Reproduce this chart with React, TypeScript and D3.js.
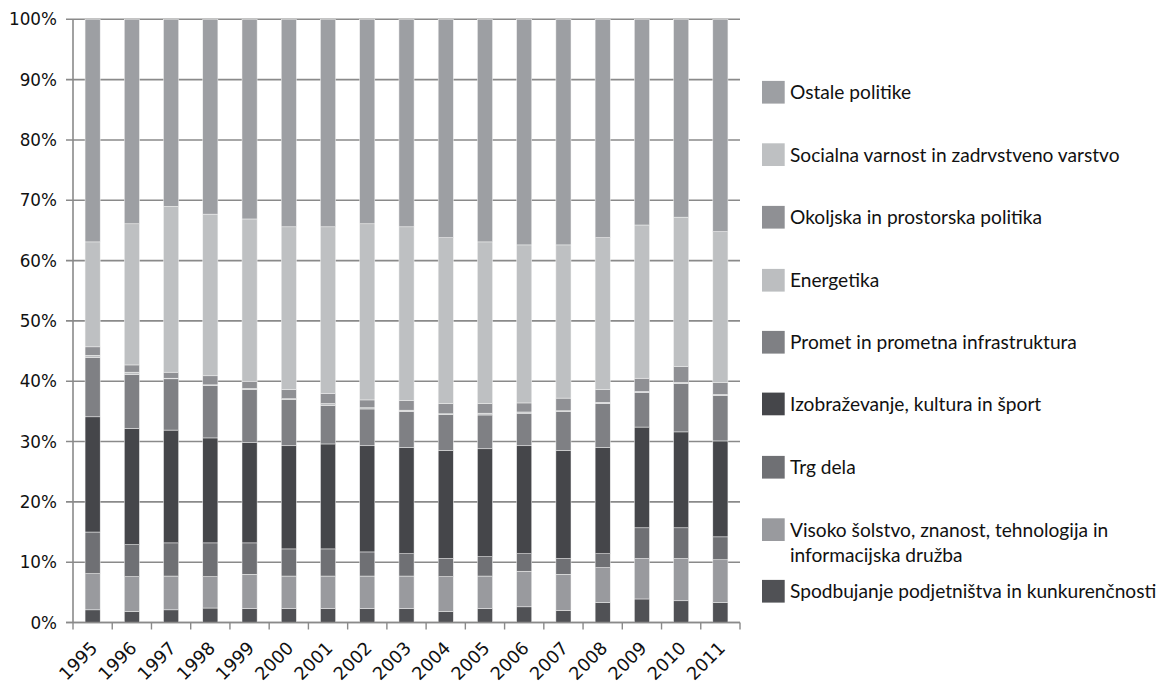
import React from "react";
import * as d3 from "d3";

const years = ["1995","1996","1997","1998","1999","2000","2001","2002","2003","2004","2005","2006","2007","2008","2009","2010","2011"];

// bottom -> top of stack
const spodbujanje = [2.1,1.8,2.1,2.4,2.3,2.3,2.3,2.3,2.3,1.8,2.3,2.6,2.0,3.3,3.9,3.6,3.3];
const visoko      = [6.0,5.8,5.6,5.2,5.7,5.4,5.4,5.4,5.4,5.8,5.4,5.9,6.0,5.8,6.7,7.0,7.1];
const trgDela     = [6.9,5.3,5.5,5.6,5.2,4.5,4.5,4.0,3.7,3.0,3.2,2.9,2.6,2.3,5.1,5.1,3.8];
const izobrazev   = [19.1,19.3,18.7,17.4,16.6,17.1,17.4,17.6,17.6,17.9,17.9,17.9,17.9,17.6,16.7,15.9,15.9];
const promet      = [9.8,8.9,8.5,8.7,8.8,7.7,6.4,6.1,6.0,6.0,5.6,5.4,6.5,7.3,5.7,8.0,7.5];
const energetika  = [0.4,0.4,0.1,0.1,0.2,0.1,0.3,0.2,0.2,0.1,0.3,0.2,0.1,0.2,0.2,0.2,0.2];
const okoljska    = [1.4,1.2,1.0,1.5,1.2,1.5,1.7,1.3,1.6,1.7,1.6,1.5,2.1,2.1,2.2,2.6,2.0];
const socialna    = [17.4,23.4,27.5,26.8,26.9,27.0,27.6,29.2,28.8,27.5,26.8,26.2,25.4,25.2,25.4,24.8,25.0];
const ostale      = [36.9,33.9,31.0,32.3,33.1,34.4,34.4,33.9,34.4,36.2,36.9,37.4,37.4,36.2,34.1,32.8,35.2];

const seriesKeys = ["spod","vis","trg","izo","prom","energ","okol","soc","ost"];
const seriesNames = [
  "Spodbujanje podjetništva in kunkurenčnosti",
  "Visoko šolstvo, znanost, tehnologija in|informacijska družba",
  "Trg dela",
  "Izobraževanje, kultura in šport",
  "Promet in prometna infrastruktura",
  "Energetika",
  "Okoljska in prostorska politika",
  "Socialna varnost in zadrvstveno varstvo",
  "Ostale politike",
];
const seriesValues = [spodbujanje, visoko, trgDela, izobrazev, promet, energetika, okoljska, socialna, ostale];
const seriesColors = ["#505155","#999a9e","#6f7074","#45464a","#7f8084","#bcbec0","#8f9094","#bec0c2","#9d9fa3"];

const yTicks = [0,0.1,0.2,0.3,0.4,0.5,0.6,0.7,0.8,0.9,1.0];

const rows = years.map((y, i) => {
  const r: any = { year: y };
  seriesKeys.forEach((k, j) => (r[k] = seriesValues[j][i]));
  return r;
});

export default function App() {
  const W = 1159, H = 686;
  const left = 73, right = 740, top = 19.3, bottom = 622.5;
  const x = d3.scaleBand().domain(years).range([left, right]).paddingInner(0.615).paddingOuter(0.3075);
  const y = d3.scaleLinear().domain([0, 1]).range([bottom, top]);
  const stack = d3.stack<any>().keys(seriesKeys).offset(d3.stackOffsetExpand);
  const stacked = stack(rows);
  const step = x.step();
  const gridColor = "#8a8a8a";

  // legend: top of stack first
  const legendOrder = [8,7,6,5,4,3,2,1,0];
  const legendY = [92.3,154.7,217.3,280.3,342.3,404,467.3,529.7,591.3];

  return (
    <svg width={W} height={H} style={{ position: "absolute", left: 0, top: 0, background: "#fff" }}>
      {/* gridlines */}
      {yTicks.map((t) => (
        <line key={"g" + t} x1={left - 7} x2={right} y1={y(t)} y2={y(t)} stroke={gridColor} strokeWidth={1.6} />
      ))}
      {/* y labels */}
      {yTicks.map((t) => (
        <text key={"yl" + t} x={57} y={y(t)} dy="0.36em" textAnchor="end" fontFamily="DejaVu Sans, Verdana, sans-serif" fontSize={16.8} fill="#111">
          {Math.round(t * 100) + "%"}
        </text>
      ))}
      {/* bars */}
      {stacked.map((s, si) => (
        <g key={s.key} fill={seriesColors[si]}>
          {s.map((d, i) => (
            <rect key={i} x={x(years[i])!} width={x.bandwidth()} y={y(d[1])} height={Math.max(0, y(d[0]) - y(d[1]))}
              stroke="#f2f2f2" strokeWidth={0.5} />
          ))}
        </g>
      ))}
      {/* axes */}
      <line x1={left} x2={left} y1={top} y2={bottom} stroke={gridColor} strokeWidth={1.6} />
      <line x1={left - 7} x2={right} y1={bottom} y2={bottom} stroke={gridColor} strokeWidth={1.6} />
      {years.map((yr, i) => (
        <line key={"xt" + yr} x1={left + step * (i + 1)} x2={left + step * (i + 1)} y1={bottom} y2={bottom + 7} stroke={gridColor} strokeWidth={1.4} />
      ))}
      <line x1={left} x2={left} y1={bottom} y2={bottom + 7} stroke={gridColor} strokeWidth={1.4} />
      {/* x labels */}
      {years.map((yr) => {
        const cx = x(yr)! + x.bandwidth() / 2 - 3;
        const cy = bottom + 18;
        return (
          <text key={"xl" + yr} transform={`translate(${cx},${cy}) rotate(-45)`} textAnchor="end" dy="0.7em"
            fontFamily="DejaVu Sans, Verdana, sans-serif" fontSize={17.8} fill="#111">
            {yr}
          </text>
        );
      })}
      {/* legend */}
      {legendOrder.map((si, li) => {
        const cy = legendY[li];
        const lines = seriesNames[si].split("|");
        return (
          <g key={"lg" + si}>
            <rect x={762} y={cy - 11.4} width={22.7} height={22.7} fill={seriesColors[si]} />
            {lines.map((ln, k) => (
              <text key={k} x={790} y={cy + 7 + k * 25.5} fontFamily="Lato, 'Open Sans', sans-serif" fontSize={19.15} fill="#111">
                {ln}
              </text>
            ))}
          </g>
        );
      })}
    </svg>
  );
}
